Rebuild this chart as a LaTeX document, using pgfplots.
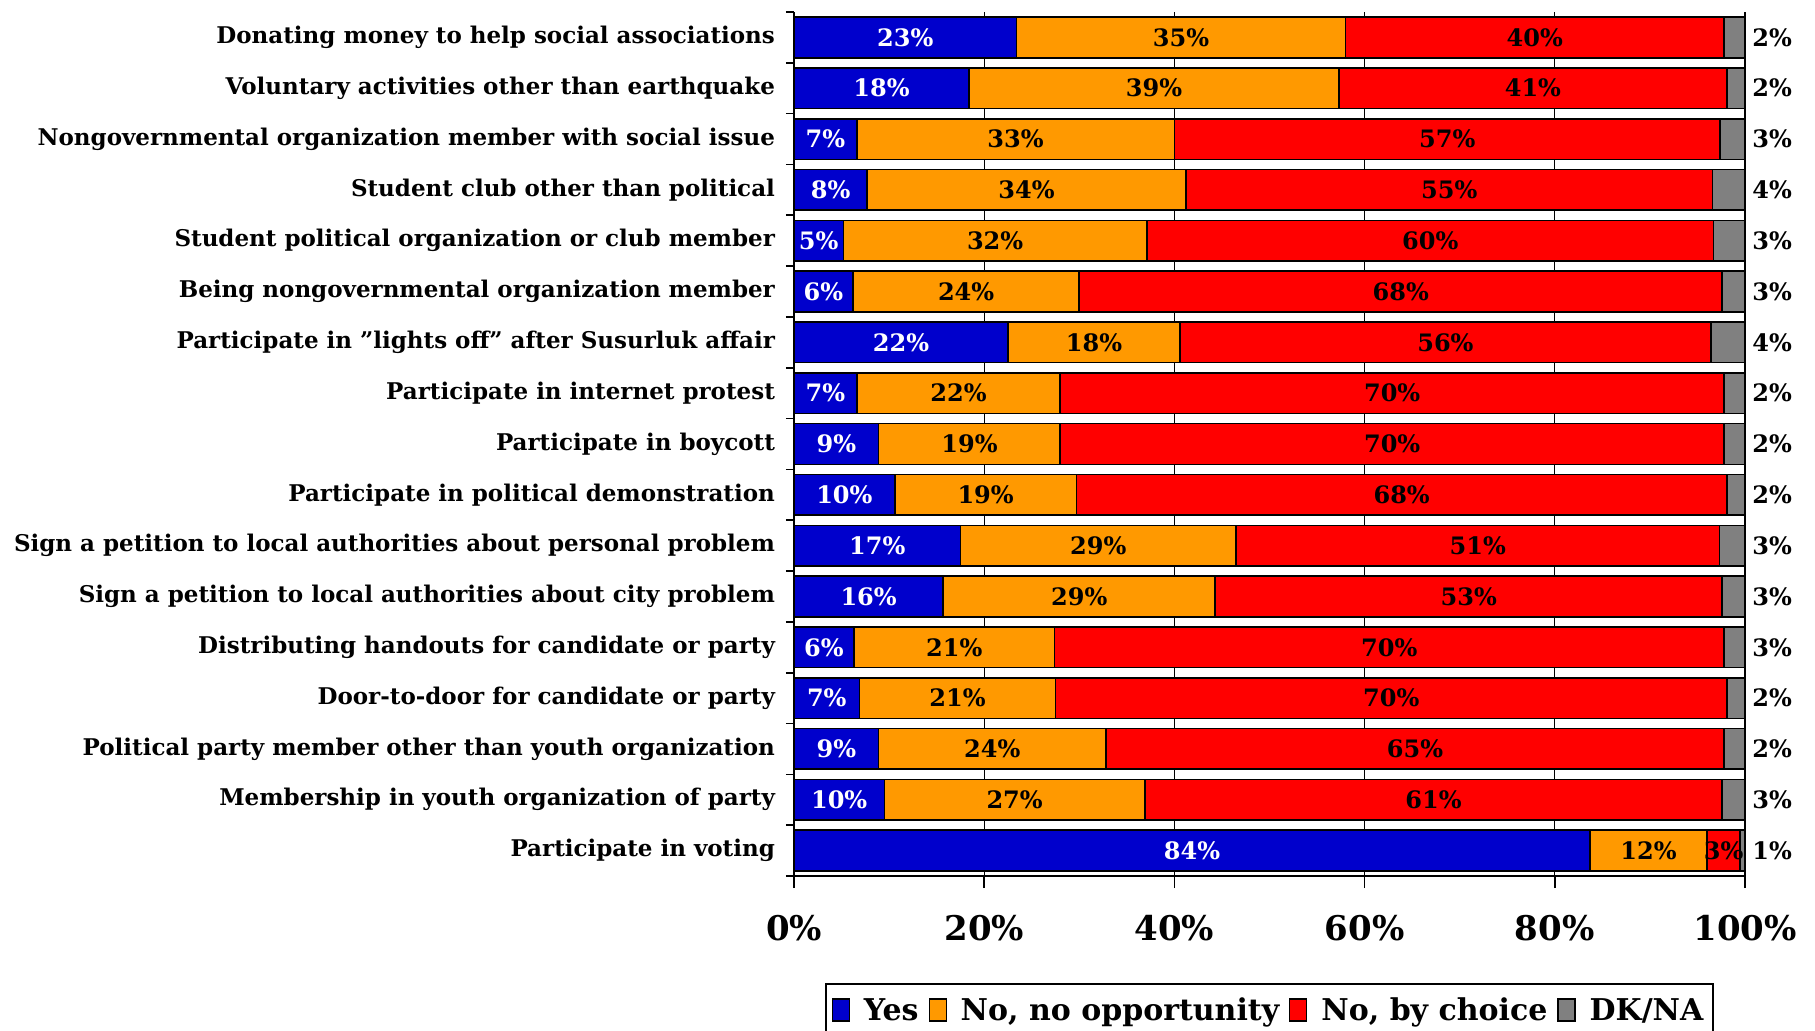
\documentclass[border=0pt]{standalone}
\usepackage{pgfplots}
\pgfplotsset{compat=1.18}
\usepackage{pgfplotstable}
\usepackage{fontspec}
\setmainfont{DejaVu Serif}
\definecolor{cyes}{RGB}{0,0,204}
\definecolor{copp}{RGB}{255,153,0}
\definecolor{cch}{RGB}{255,0,0}
\definecolor{cdk}{RGB}{128,128,128}

\pgfplotstableread{
idx yes opp cho dk yl ol cl dl
16 23.4 34.6 39.8 2.2 23 35 40 2
15 18.4 38.9 40.8 1.9 18 39 41 2
14 6.6 33.4 57.4 2.6 7 33 57 3
13 7.7 33.5 55.4 3.4 8 34 55 4
12 5.2 31.9 59.6 3.3 5 32 60 3
11 6.2 23.8 67.6 2.4 6 24 68 3
10 22.5 18.1 55.8 3.6 22 18 56 4
9 6.6 21.4 69.8 2.2 7 22 70 2
8 8.9 19.1 69.8 2.2 9 19 70 2
7 10.6 19.1 68.4 1.9 10 19 68 2
6 17.5 29.0 50.8 2.7 17 29 51 3
5 15.7 28.6 53.3 2.4 16 29 53 3
4 6.3 21.1 70.4 2.2 6 21 70 3
3 6.9 20.6 70.6 1.9 7 21 70 2
2 8.9 23.9 65.0 2.2 9 24 65 2
1 9.5 27.4 60.7 2.4 10 27 61 3
0 83.7 12.3 3.5 0.5 84 12 3 1
}\data

\pgfplotsset{
  midlab/.style={
    nodes near coords={\pgfmathprintnumber{\pgfplotspointmeta}\%},
    every node near coord/.style={anchor=center,
      font=\bfseries\fontsize{12}{14}\selectfont, text=#1}
  },
  endlab/.style={
    nodes near coords={\pgfmathprintnumber{\pgfplotspointmeta}\%},
    every node near coord/.style={anchor=west,
      shift={(axis direction cs:\rawx/2,0)},
      font=\bfseries\fontsize{12}{14}\selectfont, text=black}
  }
}

\begin{document}
\begin{tikzpicture}
\path[use as bounding box] (-397pt,-77pt) rectangle (510.5pt,438pt);
\begin{axis}[
  at={(0,0)}, anchor=south west,
  scale only axis, width=475.5pt, height=432pt,
  xbar stacked, bar width=0.8,
  xmin=0, xmax=100, ymin=-0.5, ymax=16.5,
  axis x line*=bottom, axis y line*=left,
  axis line style={line width=0.8pt},
  clip=false,
  /pgf/number format/assume math mode=true,
  xtick={0,20,...,100},
  xticklabel={\pgfmathprintnumber{\tick}\%},
  xticklabel style={font=\bfseries\fontsize{17}{19}\selectfont, yshift=-10pt},
  ytick={0,...,16},
  yticklabels={
    Participate in voting,
    Membership in youth organization of party,
    Political party member other than youth organization,
    Door-to-door for candidate or party,
    Distributing handouts for candidate or party,
    Sign a petition to local authorities about city problem,
    Sign a petition to local authorities about personal problem,
    Participate in political demonstration,
    Participate in boycott,
    Participate in internet protest,
    Participate in {\char34}lights off{\char34} after Susurluk affair,
    Being nongovernmental organization member,
    Student political organization or club member,
    Student club other than political,
    Nongovernmental organization member with social issue,
    Voluntary activities other than earthquake,
    Donating money to help social associations},
  yticklabel style={font=\bfseries\fontsize{11.5}{13}\selectfont, align=right},
  minor ytick={-0.5,0.5,...,16.5},
  tick align=outside,
  major tick length=6pt, minor tick length=4pt,
  major y tick style={draw=none},
  minor y tick style={draw=black, line width=0.8pt},
  major x tick style={draw=black, line width=0.8pt},
  xmajorgrids, grid style={black, line width=0.6pt},
  point meta=explicit,
  visualization depends on=rawx \as \rawx,
  legend style={at={(0.5,-0.124)}, anchor=north, legend columns=4,
    draw=black, line width=1pt, font=\bfseries\fontsize{15}{17}\selectfont,
    inner ysep=5pt,
    /tikz/every even column/.append style={column sep=3pt},
    /tikz/every odd column/.append style={column sep=5pt}},
  legend image code/.code={\draw[#1, draw=black, line width=0.6pt] (0pt,-5pt) rectangle (8.5pt,6pt);},
]
\addplot[fill=cyes, draw=black, line width=0.8pt, midlab=white] table[x=yes, y=idx, meta=yl]{\data};
\addplot[fill=copp, draw=black, line width=0.8pt, midlab=black] table[x=opp, y=idx, meta=ol]{\data};
\addplot[fill=cch, draw=black, line width=0.8pt, midlab=black] table[x=cho, y=idx, meta=cl]{\data};
\addplot[fill=cdk, draw=black, line width=0.8pt, endlab] table[x=dk, y=idx, meta=dl]{\data};
\legend{Yes, {No, no opportunity}, {No, by choice}, DK/NA}
\end{axis}
\end{tikzpicture}
\end{document}
